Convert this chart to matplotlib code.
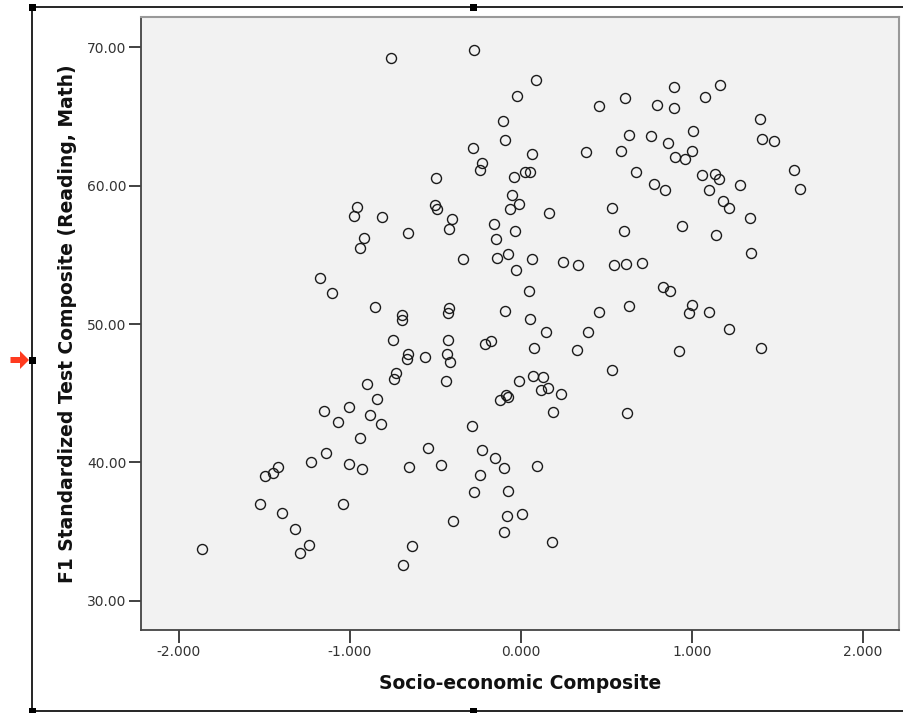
#!/usr/bin/env python3

import matplotlib
matplotlib.use('Agg')
import matplotlib.pyplot as plt
from matplotlib.lines import Line2D
from matplotlib.patches import Rectangle, Polygon

# socio-economic composite (x) and F1 standardized test composite (y)
ses = [
    -0.758, -0.275, -0.957, -0.973, -0.813, -0.915, -0.938, -1.174, -1.102, -0.854,
    0.091, -0.023, 0.460, 0.610, -0.102, -0.090, 0.635, -0.277, 0.066, 0.384,
    0.585, -0.225, -0.240, -0.497, -0.037, 0.027, 0.053, 0.673, -0.051, -0.012,
    -0.064, 0.164, 0.536, -0.501, -0.491, -0.400, -0.418, -0.659, -0.158, -0.035,
    -0.146, 0.606, -0.337, -0.139, -0.073, 0.066, -0.027, 0.249, 0.333, 0.547,
    0.616, 0.709, 0.047, -0.694, -0.692, -0.418, -0.427, -0.092, 0.054, 0.458,
    0.633, 0.898, 1.165, 0.795, 0.898, 1.080, 1.399, 0.762, 0.860, 1.009,
    1.411, 1.481, 1.000, 0.901, 0.961, 1.060, 1.138, 1.160, 1.281, 0.780,
    0.842, 1.099, 1.598, 1.635, 1.185, 1.220, 1.339, 0.945, 1.142, 1.345,
    0.834, 0.871, 1.004, 0.986, 1.099, 1.220, 0.927, 1.405, -0.899, -0.840,
    -1.150, -1.004, -1.070, -0.880, -0.819, -0.940, -1.140, -1.225, -1.002, -0.930,
    -1.421, -1.449, -1.495, -1.525, -1.398, -1.041, -1.318, -1.236, -1.289, -1.864,
    -0.749, -0.425, -0.207, -0.175, 0.150, 0.395, 0.080, 0.327, -0.659, -0.667,
    -0.561, -0.431, -0.415, -0.731, -0.743, -0.439, 0.534, -0.008, 0.070, 0.132,
    0.117, 0.161, 0.234, -0.088, -0.073, -0.119, 0.187, 0.620, -0.285, -0.544,
    -0.653, -0.464, -0.225, -0.152, -0.098, 0.095, -0.238, -0.275, -0.074, -0.398,
    -0.078, 0.006, -0.099, 0.181, -0.637, -0.690,
]
score = [
    69.21, 69.80, 58.48, 57.83, 57.76, 56.20, 55.48, 53.31, 52.23, 51.26,
    67.64, 66.46, 65.78, 66.34, 64.70, 63.30, 63.64, 62.70, 62.31, 62.44,
    62.53, 61.66, 61.16, 60.58, 60.63, 61.01, 61.01, 60.97, 59.31, 58.66,
    58.32, 58.05, 58.37, 58.63, 58.29, 57.59, 56.87, 56.58, 57.23, 56.71,
    56.13, 56.73, 54.68, 54.75, 55.09, 54.73, 53.91, 54.49, 54.25, 54.25,
    54.36, 54.39, 52.39, 50.66, 50.30, 51.14, 50.78, 50.97, 50.37, 50.87,
    51.29, 67.11, 67.30, 65.81, 65.64, 66.41, 64.82, 63.59, 63.06, 63.93,
    63.40, 63.21, 62.49, 62.05, 61.95, 60.79, 60.85, 60.48, 60.07, 60.12,
    59.71, 59.67, 61.11, 59.78, 58.89, 58.39, 57.69, 57.11, 56.44, 55.14,
    52.68, 52.39, 51.38, 50.80, 50.87, 49.65, 48.03, 48.29, 45.65, 44.61,
    43.70, 44.03, 42.90, 43.41, 42.80, 41.75, 40.66, 40.04, 39.87, 39.55,
    39.70, 39.24, 39.05, 37.02, 36.35, 37.00, 35.20, 34.02, 33.44, 33.75,
    48.85, 48.85, 48.54, 48.76, 49.43, 49.43, 48.29, 48.11, 47.82, 47.48,
    47.64, 47.82, 47.24, 46.45, 46.05, 45.91, 46.71, 45.89, 46.23, 46.20,
    45.26, 45.36, 44.95, 44.88, 44.71, 44.54, 43.63, 43.60, 42.62, 41.05,
    39.70, 39.82, 40.88, 40.33, 39.60, 39.77, 39.12, 37.87, 37.92, 35.75,
    36.16, 36.30, 35.00, 34.23, 33.97, 32.57,
]

x_ticks = [-2, -1, 0, 1, 2]
y_ticks = [30, 40, 50, 60, 70]

W, H = 904, 713


def fx(px):
    return px / W


def fy(py):
    return 1 - py / H


fig = plt.figure(figsize=(W / 100, H / 100), dpi=100)
ax = fig.add_axes([fx(141), fy(630), (899 - 141) / W, (630 - 16.7) / H])
ax.set_facecolor('#f2f2f2')

ax.plot(ses, score, linestyle='none', marker='o', markersize=7.2,
        markerfacecolor='none', markeredgecolor='#1a1a1a', markeredgewidth=1.0)

ax.set_xlim(-2.22, 2.212)
ax.set_ylim(27.9, 72.2)
ax.set_xticks(x_ticks)
ax.set_xticklabels([f'{v:.3f}' for v in x_ticks])
ax.set_yticks(y_ticks)
ax.set_yticklabels([f'{v:.2f}' for v in y_ticks])
ax.tick_params(direction='out', length=9, width=1.3, color='#333333',
               labelsize=10, labelcolor='#333333', pad=1.5)

for side in ('left', 'bottom'):
    ax.spines[side].set_color('#444444')
    ax.spines[side].set_linewidth(1.3)
for side in ('top', 'right'):
    ax.spines[side].set_color('#999999')
    ax.spines[side].set_linewidth(1.5)

ax.set_xlabel('Socio-economic Composite', fontsize=13.5, fontweight='bold',
              color='#111111', labelpad=11)
ax.set_ylabel('F1 Standardized Test Composite (Reading, Math)', fontsize=13.5,
              fontweight='bold', color='#111111', labelpad=7)

# selection frame around the chart
frame_x, frame_top, frame_bot = 32.5, 7.3, 711
fig.add_artist(Line2D([fx(frame_x), fx(frame_x)], [fy(frame_top), fy(H + 2)],
                      color='black', lw=1.2, transform=fig.transFigure))
fig.add_artist(Line2D([fx(frame_x), fx(W + 2)], [fy(frame_top), fy(frame_top)],
                      color='black', lw=1.2, transform=fig.transFigure))
fig.add_artist(Line2D([fx(frame_x), fx(W + 2)], [fy(frame_bot), fy(frame_bot)],
                      color='black', lw=1.2, transform=fig.transFigure))
for hx, hy in [(32.5, 7.3), (474, 7.3), (32.5, 360), (32.5, 711), (474, 711)]:
    fig.add_artist(Rectangle((fx(hx - 3.5), fy(hy + 3.5)), 7 / W, 7 / H,
                             facecolor='black', edgecolor='none',
                             transform=fig.transFigure))

# red marker arrow
arrow = [(10.5, 357), (20, 357), (20, 351), (29, 360), (20, 369), (20, 363), (10.5, 363)]
fig.add_artist(Polygon([(fx(a), fy(b)) for a, b in arrow], closed=True,
                       facecolor='#ff3b1f', edgecolor='none',
                       transform=fig.transFigure))

fig.savefig('out.png', dpi=100)
